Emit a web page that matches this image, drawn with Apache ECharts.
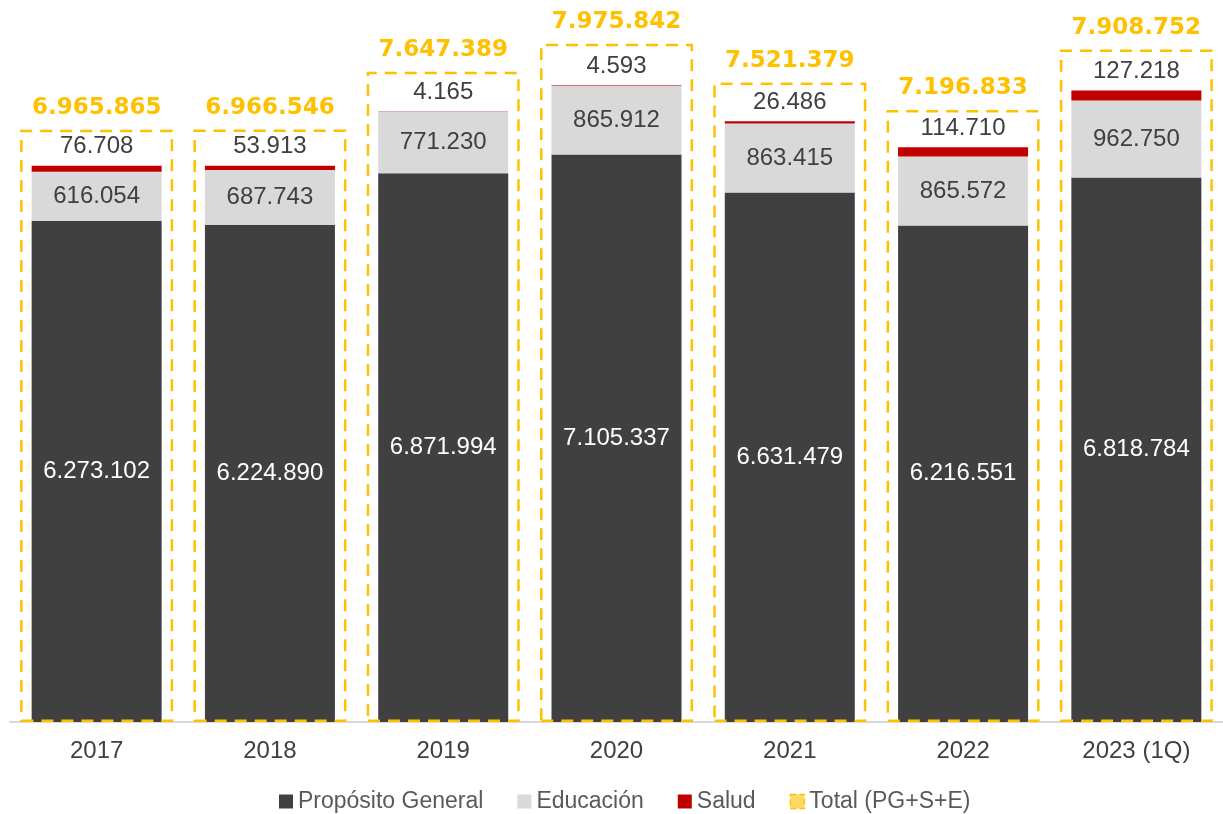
<!DOCTYPE html>
<html>
<head>
<meta charset="utf-8">
<script src="https://cdn.jsdelivr.net/npm/echarts@6/dist/echarts.min.js"></script>
<style>
  html, body { margin: 0; padding: 0; background: #fff; }
  #chart { width: 1223px; height: 814px; }
</style>
</head>
<body>
<div id="chart"></div>
<script>
const years = ['2017', '2018', '2019', '2020', '2021', '2022', '2023 (1Q)'];
const proposito = [6273102, 6224890, 6871994, 7105337, 6631479, 6216551, 6818784];
const educacion = [616054, 687743, 771230, 865912, 863415, 865572, 962750];
const salud = [76708, 53913, 4165, 4593, 26486, 114710, 127218];
const total = [6965865, 6966546, 7647389, 7975842, 7521379, 7196833, 7908752];

const fmt = v => String(v).replace(/\B(?=(\d{3})+(?!\d))/g, '.');
const font = 'Liberation Sans, Arial, sans-serif';

var chart = echarts.init(document.getElementById('chart'));

chart.setOption({
  animation: false,
  textStyle: { fontFamily: font },
  grid: { left: 10, width: 1225, top: 40, bottom: 92 },
  legend: {
    top: 785,
    left: 274,
    itemWidth: 14,
    itemHeight: 14,
    itemGap: 34,
    icon: 'rect',
    textStyle: { fontSize: 23, color: '#595959', fontFamily: font },
    data: [
      'Propósito General',
      'Educación',
      'Salud',
      { name: 'Total (PG+S+E)', itemStyle: { color: '#ffd966', borderColor: '#ffc000', borderWidth: 1.5, borderType: 'dashed' } }
    ]
  },
  xAxis: [
    {
      type: 'category',
      data: years,
      axisLine: { lineStyle: { color: '#d9d9d9', width: 2 } },
      axisTick: { show: false },
      axisLabel: { fontSize: 24, color: '#404040', margin: 17 }
    },
    { type: 'category', data: years, show: false }
  ],
  yAxis: [
    { type: 'value', min: 0, max: 8540000, show: false, splitLine: { show: false } },
    { type: 'value', min: 0, max: 8020000, show: false, splitLine: { show: false } }
  ],
  series: [
    {
      name: 'Propósito General',
      type: 'bar',
      stack: 'a',
      barWidth: 130,
      data: proposito,
      itemStyle: { color: '#404040' },
      label: { show: true, position: 'inside', color: '#fff', fontSize: 24, formatter: p => fmt(p.value) }
    },
    {
      name: 'Educación',
      type: 'bar',
      stack: 'a',
      data: educacion,
      itemStyle: { color: '#d9d9d9' },
      label: { show: true, position: 'inside', color: '#404040', fontSize: 24, formatter: p => fmt(p.value) }
    },
    {
      name: 'Salud',
      type: 'bar',
      stack: 'a',
      data: salud,
      itemStyle: { color: '#c00000' },
      label: { show: true, position: 'top', distance: 7, color: '#404040', fontSize: 24, formatter: p => fmt(p.value) }
    },
    {
      name: 'Total (PG+S+E)',
      type: 'bar',
      xAxisIndex: 1,
      yAxisIndex: 1,
      barWidth: 153,
      z: 5,
      data: total,
      itemStyle: {
        color: 'rgba(0,0,0,0)',
        borderColor: '#ffc000',
        borderWidth: 2.5,
        borderType: [12, 8]
      },
      label: {
        show: true,
        position: 'top',
        distance: 10,
        color: '#ffc000',
        fontSize: 23,
        fontWeight: 'bold',
        fontFamily: 'DejaVu Sans, sans-serif',
        formatter: p => fmt(p.value)
      }
    }
  ]
});
</script>
</body>
</html>
